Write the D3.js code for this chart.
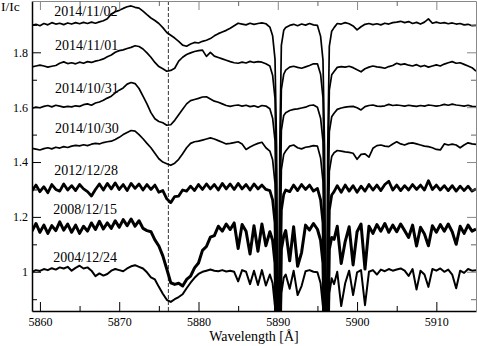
<!DOCTYPE html>
<html>
<head>
<meta charset="utf-8">
<script src="https://cdn.jsdelivr.net/npm/d3@7"></script>
<style>
  body { margin: 0; background: #fff; }
  svg { display: block; }
  svg text { font-family: "Liberation Serif", "Times New Roman", Times, serif; }
</style>
</head>
<body>
<svg id="chart" width="477" height="346"></svg>
<script>
// wavelength grid [Å], finer around the Na D lines
const wavelength = [
  5859, 5859.5, 5860, 5860.5, 5861, 5861.5, 5862, 5862.5, 5863, 5863.5,
  5864, 5864.5, 5865, 5865.5, 5866, 5866.5, 5867, 5867.5, 5868, 5868.5,
  5869, 5869.5, 5870, 5870.5, 5871, 5871.5, 5872, 5872.5, 5873, 5873.5,
  5874, 5874.5, 5875, 5875.5, 5876, 5876.5, 5877, 5877.5, 5878, 5878.5,
  5879, 5879.5, 5880, 5880.5, 5881, 5881.5, 5882, 5882.5, 5883, 5883.5,
  5884, 5884.5, 5885, 5885.5, 5886, 5886.5, 5887, 5887.5, 5888, 5888.5,
  5889, 5889.35, 5889.65, 5889.85, 5890.05, 5890.25, 5890.45, 5890.75, 5891, 5891.5,
  5892, 5892.5, 5893, 5893.5, 5894, 5894.5, 5895, 5895.4, 5895.7, 5895.9,
  5896.1, 5896.3, 5896.5, 5896.8, 5897.1, 5897.5, 5898, 5898.5, 5899, 5899.5,
  5900, 5900.5, 5901, 5901.5, 5902, 5902.5, 5903, 5903.5, 5904, 5904.5,
  5905, 5905.5, 5906, 5906.5, 5907, 5907.5, 5908, 5908.5, 5909, 5909.5,
  5910, 5910.5, 5911, 5911.5, 5912, 5912.5, 5913, 5913.5, 5914, 5914.5,
  5915
];

// I/Ic with the vertical offsets as plotted
const spec20141102 = [
  1.898, 1.902, 1.897, 1.905, 1.900, 1.908, 1.903, 1.906, 1.901, 1.907,
  1.903, 1.908, 1.904, 1.909, 1.905, 1.910, 1.906, 1.911, 1.915, 1.922,
  1.940, 1.948, 1.953, 1.960, 1.966, 1.969, 1.964, 1.961, 1.950, 1.937,
  1.925, 1.916, 1.905, 1.890, 1.872, 1.862, 1.852, 1.840, 1.826, 1.822,
  1.830, 1.836, 1.834, 1.840, 1.844, 1.850, 1.860, 1.868, 1.874, 1.880,
  1.888, 1.897, 1.906, 1.903, 1.900, 1.906, 1.902, 1.905, 1.907, 1.904,
  1.892, 1.860, 1.775, 1.455, 0.300, 1.455, 1.825, 1.880, 1.890, 1.898,
  1.902, 1.897, 1.903, 1.899, 1.905, 1.900, 1.898, 1.858, 1.772, 1.452,
  0.300, 1.452, 1.822, 1.877, 1.890, 1.905, 1.903, 1.908, 1.904, 1.896,
  1.882, 1.893, 1.902, 1.905, 1.901, 1.904, 1.900, 1.906, 1.903, 1.908,
  1.910, 1.913, 1.908, 1.912, 1.905, 1.909, 1.903, 1.910, 1.922, 1.906,
  1.910, 1.906, 1.908, 1.904, 1.907, 1.903, 1.905, 1.900, 1.902, 1.897,
  1.898
];

const spec20141101 = [
  1.747, 1.750, 1.753, 1.750, 1.746, 1.749, 1.752, 1.760, 1.765, 1.759,
  1.762, 1.758, 1.764, 1.760, 1.766, 1.763, 1.768, 1.771, 1.776, 1.784,
  1.790, 1.800, 1.806, 1.809, 1.814, 1.818, 1.824, 1.821, 1.812, 1.798,
  1.782, 1.763, 1.748, 1.740, 1.731, 1.734, 1.742, 1.768, 1.782, 1.792,
  1.798, 1.803, 1.806, 1.808, 1.785, 1.800, 1.786, 1.781, 1.776, 1.771,
  1.766, 1.762, 1.760, 1.764, 1.761, 1.767, 1.763, 1.766, 1.764, 1.758,
  1.750, 1.716, 1.632, 1.310, 0.300, 1.295, 1.665, 1.720, 1.735, 1.746,
  1.749, 1.745, 1.742, 1.747, 1.752, 1.758, 1.758, 1.720, 1.635, 1.314,
  0.300, 1.292, 1.662, 1.718, 1.730, 1.745, 1.748, 1.746, 1.749, 1.744,
  1.736, 1.729, 1.740, 1.746, 1.750, 1.747, 1.745, 1.742, 1.748, 1.752,
  1.760, 1.755, 1.758, 1.753, 1.750, 1.755, 1.748, 1.752, 1.746, 1.750,
  1.754, 1.750, 1.757, 1.762, 1.766, 1.760, 1.762, 1.756, 1.750, 1.744,
  1.731
];

const spec20141031 = [
  1.596, 1.600, 1.598, 1.603, 1.606, 1.601, 1.607, 1.604, 1.600, 1.603,
  1.601, 1.605, 1.603, 1.609, 1.612, 1.607, 1.615, 1.619, 1.625, 1.633,
  1.640, 1.652, 1.662, 1.670, 1.684, 1.690, 1.686, 1.668, 1.640, 1.612,
  1.580, 1.558, 1.548, 1.543, 1.534, 1.536, 1.552, 1.572, 1.592, 1.612,
  1.624, 1.628, 1.632, 1.637, 1.638, 1.630, 1.622, 1.618, 1.612, 1.606,
  1.603, 1.606, 1.608, 1.604, 1.607, 1.602, 1.605, 1.600, 1.606, 1.604,
  1.594, 1.560, 1.478, 1.154, 0.300, 1.145, 1.515, 1.570, 1.580, 1.588,
  1.592, 1.594, 1.597, 1.600, 1.606, 1.608, 1.600, 1.560, 1.476, 1.153,
  0.300, 1.140, 1.510, 1.565, 1.578, 1.592, 1.597, 1.600, 1.602, 1.603,
  1.598, 1.590, 1.602, 1.606, 1.608, 1.604, 1.603, 1.605, 1.610, 1.606,
  1.608, 1.606, 1.604, 1.607, 1.605, 1.603, 1.606, 1.604, 1.608, 1.606,
  1.604, 1.606, 1.610, 1.607, 1.611, 1.608, 1.606, 1.604, 1.607, 1.603,
  1.602
];

const spec20141030 = [
  1.450, 1.447, 1.444, 1.449, 1.452, 1.448, 1.454, 1.451, 1.456, 1.453,
  1.458, 1.461, 1.459, 1.463, 1.460, 1.465, 1.468, 1.466, 1.471, 1.474,
  1.476, 1.482, 1.490, 1.500, 1.508, 1.515, 1.513, 1.500, 1.485, 1.468,
  1.452, 1.432, 1.412, 1.400, 1.394, 1.388, 1.396, 1.410, 1.430, 1.452,
  1.468, 1.474, 1.476, 1.480, 1.484, 1.488, 1.484, 1.478, 1.472, 1.466,
  1.468, 1.471, 1.474, 1.466, 1.446, 1.455, 1.462, 1.468, 1.472, 1.452,
  1.440, 1.408, 1.322, 1.000, 0.300, 1.000, 1.372, 1.428, 1.440, 1.458,
  1.462, 1.452, 1.448, 1.454, 1.456, 1.460, 1.458, 1.415, 1.330, 1.008,
  0.300, 1.000, 1.366, 1.420, 1.434, 1.442, 1.440, 1.437, 1.435, 1.432,
  1.410, 1.428, 1.430, 1.418, 1.450, 1.460, 1.462, 1.458, 1.456, 1.466,
  1.474, 1.466, 1.462, 1.468, 1.470, 1.466, 1.462, 1.458, 1.456, 1.452,
  1.446, 1.444, 1.466, 1.462, 1.465, 1.462, 1.452, 1.462, 1.470, 1.466,
  1.464
];

const spec20121228 = [
  1.296, 1.316, 1.292, 1.310, 1.288, 1.318, 1.300, 1.294, 1.320, 1.298,
  1.314, 1.296, 1.318, 1.302, 1.292, 1.276, 1.300, 1.320, 1.298, 1.322,
  1.302, 1.324, 1.300, 1.318, 1.296, 1.322, 1.304, 1.320, 1.298, 1.318,
  1.300, 1.316, 1.290, 1.296, 1.266, 1.252, 1.274, 1.276, 1.298, 1.294,
  1.312, 1.296, 1.318, 1.300, 1.320, 1.302, 1.318, 1.298, 1.322, 1.302,
  1.320, 1.300, 1.322, 1.302, 1.318, 1.298, 1.320, 1.302, 1.316, 1.300,
  1.296, 1.262, 1.178, 0.855, 0.300, 0.855, 1.225, 1.282, 1.298, 1.292,
  1.316, 1.296, 1.318, 1.300, 1.316, 1.294, 1.304, 1.262, 1.178, 0.855,
  0.300, 0.855, 1.225, 1.280, 1.292, 1.314, 1.290, 1.316, 1.294, 1.314,
  1.290, 1.312, 1.294, 1.318, 1.298, 1.316, 1.296, 1.318, 1.330, 1.298,
  1.316, 1.296, 1.314, 1.298, 1.318, 1.300, 1.316, 1.298, 1.332, 1.300,
  1.316, 1.298, 1.314, 1.296, 1.314, 1.294, 1.312, 1.296, 1.312, 1.294,
  1.302
];

const spec20081215 = [
  1.148, 1.176, 1.144, 1.170, 1.140, 1.168, 1.150, 1.182, 1.152, 1.174,
  1.144, 1.170, 1.140, 1.166, 1.148, 1.178, 1.154, 1.184, 1.156, 1.178,
  1.158, 1.186, 1.162, 1.190, 1.168, 1.192, 1.166, 1.186, 1.158, 1.150,
  1.146, 1.116, 1.094, 1.058, 1.010, 0.960, 0.954, 0.958, 0.948, 0.972,
  0.984, 1.014, 1.032, 1.078, 1.092, 1.126, 1.132, 1.166, 1.148, 1.174,
  1.154, 1.178, 1.085, 1.172, 1.148, 1.065, 1.168, 1.075, 1.174, 1.095,
  1.146, 1.115, 1.032, 0.710, 0.300, 0.710, 1.082, 1.130, 1.150, 1.040,
  1.164, 1.020, 1.070, 1.170, 1.152, 1.176, 1.155, 1.115, 1.032, 0.710,
  0.300, 0.710, 1.082, 1.125, 1.118, 1.166, 1.030, 1.110, 1.164, 1.025,
  1.146, 1.174, 1.010, 1.166, 1.140, 1.172, 1.148, 1.176, 1.144, 1.170,
  1.146, 1.174, 1.150, 1.125, 1.170, 1.094, 1.162, 1.138, 1.095, 1.168,
  1.144, 1.172, 1.148, 1.174, 1.146, 1.100, 1.166, 1.140, 1.170, 1.148,
  1.156
];

const spec20041224 = [
  1.000, 1.006, 1.003, 1.010, 1.006, 1.013, 1.008, 1.016, 1.012, 1.018,
  1.004, 1.014, 1.022, 1.012, 1.016, 1.004, 0.984, 0.994, 0.986, 0.992,
  1.004, 1.010, 1.006, 1.002, 1.012, 1.020, 1.024, 1.018, 1.012, 0.998,
  0.980, 0.972, 0.945, 0.920, 0.898, 0.890, 0.900, 0.908, 0.918, 0.940,
  0.960, 0.978, 0.992, 1.000, 1.004, 1.008, 1.004, 1.002, 1.006, 1.001,
  1.004, 1.000, 0.965, 1.006, 1.000, 0.955, 1.004, 0.952, 1.006, 0.950,
  0.990, 0.958, 0.872, 0.550, 0.300, 0.550, 0.922, 0.978, 0.990, 0.938,
  1.004, 0.915, 0.948, 1.002, 1.006, 1.000, 0.998, 0.958, 0.872, 0.550,
  0.300, 0.550, 0.922, 0.976, 0.955, 1.000, 0.875, 0.958, 1.004, 0.915,
  0.998, 1.006, 0.878, 1.000, 1.006, 0.990, 1.008, 1.002, 1.010, 1.004,
  1.008, 1.012, 1.004, 0.985, 1.010, 0.935, 1.004, 0.990, 0.945, 1.010,
  1.004, 1.012, 1.000, 1.008, 0.990, 0.940, 1.004, 0.996, 1.010, 1.004,
  1.006
];

const dates = ['2014/11/02', '2014/11/01', '2014/10/31', '2014/10/30',
  '2012/12/28', '2008/12/15', '2004/12/24'];
const spectra = [spec20141102, spec20141101, spec20141031, spec20141030,
  spec20121228, spec20081215, spec20041224];

const heLine = 5876.2;
const xTicks = [5860, 5870, 5880, 5890, 5900, 5910];
const xTickLabels = ['5860', '5870', '5880', '5890', '5900', '5910'];
const xMinorTicks = [5865, 5875, 5885, 5895, 5905];
const yTicks = [1, 1.2, 1.4, 1.6, 1.8];
const yTickLabels = ['1', '1.2', '1.4', '1.6', '1.8'];
const yMinorTicks = [0.9, 1.1, 1.3, 1.5, 1.7, 1.9];

spectra.forEach((s, i) => {
  if (s.length !== wavelength.length) {
    throw new Error(`${dates[i]}: ${s.length} values, ${wavelength.length} wavelengths`);
  }
});

// layout
const FONT = '"Liberation Serif", "Times New Roman", Times, serif';
const margin = { top: 1, right: 1, bottom: 35, left: 32 };
const width = 477 - margin.left - margin.right;
const height = 346 - margin.top - margin.bottom;
// the noisier old spectra are drawn as thicker bands
const strokeWidths = [1.7, 1.7, 1.7, 1.7, 2.8, 3.0, 2];
// label anchors (wavelength, level) for the date labels
const labelAt = [[5861.81, 1.932], [5861.9, 1.808], [5861.9, 1.650], [5861.9, 1.505],
  [5861.81, 1.353], [5861.69, 1.210], [5861.69, 1.034]];

const x = d3.scaleLinear().domain([5859, 5915]).range([0, width]);
const y = d3.scaleLinear().domain([0.857, 1.987]).range([height, 0]);

const svg = d3.select('#chart').style('font-family', FONT);
const g = svg.append('g')
  .attr('transform', `translate(${margin.left},${margin.top})`);

g.append('clipPath').attr('id', 'plot-clip')
  .append('rect').attr('width', width).attr('height', height);

// He I 5876 marker
g.append('line')
  .attr('x1', x(heLine)).attr('x2', x(heLine))
  .attr('y1', 0).attr('y2', height)
  .attr('stroke', '#333')
  .attr('stroke-width', 1)
  .attr('stroke-dasharray', '4,2');

const line = d3.line()
  .x((d, i) => x(wavelength[i]))
  .y(d => y(d));

g.append('g').attr('clip-path', 'url(#plot-clip)')
  .selectAll('path')
  .data(spectra)
  .join('path')
  .attr('d', line)
  .attr('fill', 'none')
  .attr('stroke', '#000')
  .attr('stroke-width', (d, i) => strokeWidths[i])
  .attr('stroke-linejoin', 'round');

// axes, ticks pointing inward
function styleAxis(sel, color, w) {
  sel.attr('font-family', FONT).attr('font-size', 12);
  sel.select('.domain').attr('stroke', color).attr('stroke-width', w);
  sel.selectAll('.tick line').attr('stroke', color).attr('stroke-width', 1);
  sel.selectAll('.tick text').attr('fill', '#000').style('font-family', FONT);
}
function minor(sel, color) {
  sel.select('.domain').remove();
  sel.selectAll('.tick line').attr('stroke', color);
}

g.append('g').attr('transform', `translate(0,${height})`)
  .call(d3.axisBottom(x).tickValues(xTicks).tickFormat((d, i) => xTickLabels[i])
    .tickSize(-9).tickSizeOuter(0).tickPadding(6))
  .call(styleAxis, '#000', 1.5);
g.append('g').attr('transform', `translate(0,${height})`)
  .call(d3.axisBottom(x).tickValues(xMinorTicks).tickFormat('').tickSize(-5))
  .call(minor, '#000');

g.append('g')
  .call(d3.axisLeft(y).tickValues(yTicks).tickFormat((d, i) => yTickLabels[i])
    .tickSize(-9).tickSizeOuter(0).tickPadding(4))
  .call(styleAxis, '#000', 1.5);
g.append('g')
  .call(d3.axisLeft(y).tickValues(yMinorTicks).tickFormat('').tickSize(-5))
  .call(minor, '#000');

g.append('g')
  .call(d3.axisTop(x).tickValues(xTicks).tickFormat('').tickSize(-9).tickSizeOuter(0))
  .call(styleAxis, '#888', 1);
g.append('g')
  .call(d3.axisTop(x).tickValues(xMinorTicks).tickFormat('').tickSize(-5))
  .call(minor, '#666');

g.append('g').attr('transform', `translate(${width},0)`)
  .call(d3.axisRight(y).tickValues(yTicks).tickFormat('').tickSize(-9).tickSizeOuter(0))
  .call(styleAxis, '#888', 1);
g.append('g').attr('transform', `translate(${width},0)`)
  .call(d3.axisRight(y).tickValues(yMinorTicks).tickFormat('').tickSize(-5))
  .call(minor, '#666');

// date labels
g.append('g')
  .selectAll('text')
  .data(dates)
  .join('text')
  .attr('x', (d, i) => x(labelAt[i][0]))
  .attr('y', (d, i) => y(labelAt[i][1]))
  .attr('font-size', 14)
  .attr('fill', '#000')
  .style('font-family', FONT)
  .text(d => d);

// axis titles
svg.append('text')
  .attr('x', 1).attr('y', 11)
  .attr('font-size', 13.5)
  .style('font-family', FONT)
  .text('I/Ic');

svg.append('text')
  .attr('x', margin.left + width / 2).attr('y', 341)
  .attr('text-anchor', 'middle')
  .attr('font-size', 14)
  .style('font-family', FONT)
  .text('Wavelength [Å]');
</script>
</body>
</html>
